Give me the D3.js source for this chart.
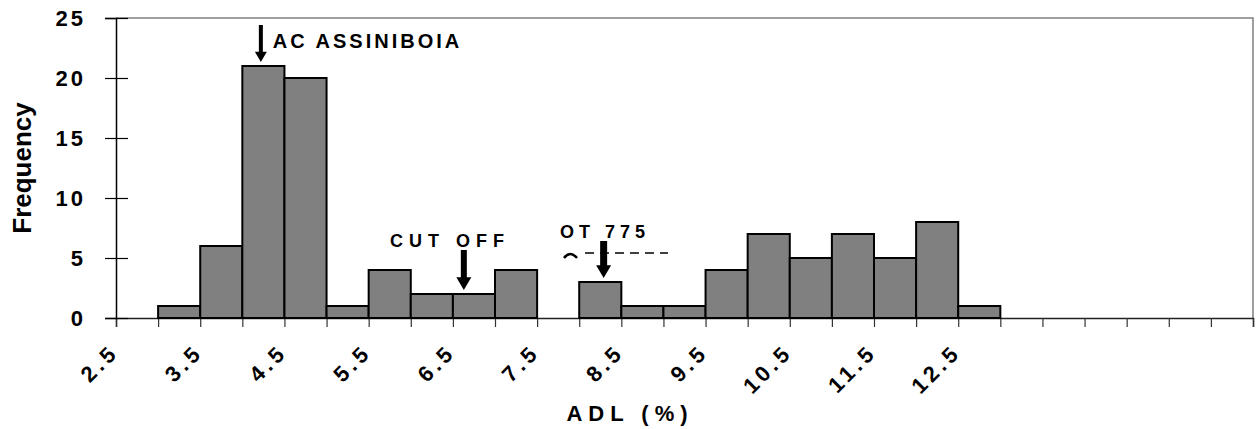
<!DOCTYPE html>
<html>
<head>
<meta charset="utf-8">
<script src="https://cdn.jsdelivr.net/npm/d3@7"></script>
<style>
  body { margin: 0; background: #fff; }
  text { font-family: Arial, "Liberation Sans", sans-serif; font-weight: bold; fill: #000; }
</style>
</head>
<body>
<svg id="graph" width="1256" height="429"></svg>
<script>
const GRAPH = d3.select('#graph');
const LEFT = 116;
const RIGHT = 1253;
const TOP = 18;
const BOTTOM = 318;

// DATA
const BIN_EDGES = [2.5, 3, 3.5, 4, 4.5, 5, 5.5, 6, 6.5, 7, 7.5, 8, 8.5, 9, 9.5,
  10, 10.5, 11, 11.5, 12, 12.5, 13, 13.5, 14, 14.5, 15, 15.5, 16];
const FREQUENCY = [0, 1, 6, 21, 20, 1, 4, 2, 2, 4, 0, 3, 1, 1, 4, 7, 5, 7, 5, 8, 1,
  0, 0, 0, 0, 0, 0];
const X_LABELS = ['2.5', '3.5', '4.5', '5.5', '6.5', '7.5', '8.5', '9.5', '10.5', '11.5', '12.5'];
const Y_TICKS = [0, 5, 10, 15, 20, 25];
const NOTES = [
  { text: 'AC ASSINIBOIA', at: 4.22 },
  { text: 'CUT OFF', at: 6.63 },
  { text: 'OT 775', at: 8.29 }
];

const x = d3.scaleLinear().domain([2.5, 16]).range([LEFT, RIGHT]);
const y = d3.scaleLinear().domain([0, 25]).range([BOTTOM, TOP]);

const bins = FREQUENCY.map((v, i) => ({ x0: BIN_EDGES[i], x1: BIN_EDGES[i + 1], value: v }));

// plot frame (gray top and right)
GRAPH.append('path')
  .attr('d', `M${LEFT},${TOP}H${RIGHT}V${BOTTOM}`)
  .attr('fill', 'none')
  .attr('stroke', '#808080')
  .attr('stroke-width', 1.5);

// x axis
const xAxis = GRAPH.append('g')
  .attr('transform', `translate(0,${BOTTOM})`)
  .call(d3.axisBottom(x)
    .tickValues(BIN_EDGES)
    .tickSize(9)
    .tickFormat(d => X_LABELS.includes(String(d)) ? String(d) : ''));
xAxis.select('.domain').attr('stroke', '#222').attr('stroke-width', 1.5);
xAxis.selectAll('.tick line').attr('stroke', '#333').attr('stroke-width', 1.2);
xAxis.selectAll('.tick text')
  .attr('x', 0).attr('y', 0).attr('dy', '0.35em')
  .attr('text-anchor', 'end')
  .attr('transform', 'translate(-2,30) rotate(-45)')
  .style('font-size', '22px')
  .style('letter-spacing', '4px');

// bars
GRAPH.selectAll('rect.bar')
  .data(bins.filter(d => d.value > 0))
  .join('rect')
  .attr('class', 'bar')
  .attr('x', d => x(d.x0))
  .attr('y', d => y(d.value))
  .attr('width', d => x(d.x1) - x(d.x0))
  .attr('height', d => y(0) - y(d.value))
  .attr('fill', '#808080')
  .attr('stroke', '#000')
  .attr('stroke-width', 2);

// y axis
const yAxis = GRAPH.append('g')
  .attr('transform', `translate(${LEFT},0)`)
  .call(d3.axisLeft(y).tickValues(Y_TICKS).tickSize(11).tickPadding(0));
yAxis.select('.domain').attr('stroke', '#000').attr('stroke-width', 1.5);
yAxis.selectAll('.tick line').attr('x1', 12).attr('stroke', '#000').attr('stroke-width', 1.2);
yAxis.selectAll('.tick text')
  .attr('x', -30)
  .style('font-size', '22px')
  .style('letter-spacing', '3px');

// axis titles
GRAPH.append('text')
  .attr('transform', `translate(31,${(TOP + BOTTOM) / 2}) rotate(-90)`)
  .attr('text-anchor', 'middle')
  .style('font-size', '26px')
  .text('Frequency');

GRAPH.append('text')
  .attr('x', 630)
  .attr('y', 421)
  .attr('text-anchor', 'middle')
  .style('font-size', '22px')
  .style('letter-spacing', '6px')
  .text('ADL (%)');

// annotations
function arrow(cx, yTop, yTip, shaft, head) {
  const hh = head * 0.85;
  GRAPH.append('path')
    .attr('d', `M${cx - shaft / 2},${yTop}H${cx + shaft / 2}V${yTip - hh}H${cx + head / 2}` +
      `L${cx},${yTip}L${cx - head / 2},${yTip - hh}H${cx - shaft / 2}Z`)
    .attr('fill', '#000');
}

arrow(x(NOTES[0].at), 25, 62, 4, 12);
GRAPH.append('text')
  .attr('x', x(NOTES[0].at) + 12).attr('y', 48)
  .style('font-size', '20px').style('letter-spacing', '3px')
  .text(NOTES[0].text);

arrow(x(NOTES[1].at), 250, 290, 6, 15);
GRAPH.append('text')
  .attr('x', 390).attr('y', 247)
  .style('font-size', '18px').style('letter-spacing', '6px')
  .text(NOTES[1].text);

GRAPH.append('path')
  .attr('d', 'M564,258 Q570,250 577,258')
  .attr('fill', 'none').attr('stroke', '#000').attr('stroke-width', 2.5);
GRAPH.append('line')
  .attr('x1', 585).attr('x2', 668).attr('y1', 253).attr('y2', 253)
  .attr('stroke', '#000').attr('stroke-width', 1.5)
  .attr('stroke-dasharray', '9,6');
arrow(x(NOTES[2].at), 241, 278, 7, 15);
GRAPH.append('text')
  .attr('x', 560).attr('y', 238)
  .style('font-size', '18px').style('letter-spacing', '5px')
  .text(NOTES[2].text);
</script>
</body>
</html>
